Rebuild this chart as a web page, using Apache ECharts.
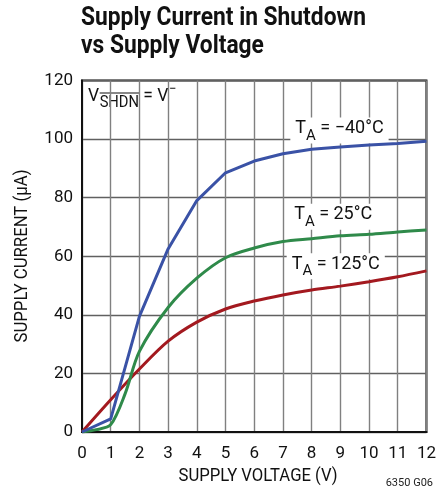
<!DOCTYPE html>
<html>
<head>
<meta charset="utf-8">
<script src="https://cdn.jsdelivr.net/npm/echarts@6/dist/echarts.min.js"></script>
<style>
  html, body { margin: 0; padding: 0; background: #fff; }
  #chart { width: 439px; height: 491px; }
</style>
</head>
<body>
<div id="chart"></div>
<script>
// Supply current in shutdown vs supply voltage, three ambient temperatures
const xTicks = [0, 1, 2, 3, 4, 5, 6, 7, 8, 9, 10, 11, 12];
const yTicks = [0, 20, 40, 60, 80, 100, 120];

const voltsNeg40 = [0, 1, 2, 3, 4, 5, 6, 7, 8, 9, 10, 11, 12];
const currentNeg40 = [0, 4.5, 39.5, 62.5, 79, 88.5, 92.5, 95, 96.5, 97.3, 98, 98.5, 99.3];

const volts25 = [0, 0.5, 1, 1.5, 2, 3, 4, 5, 6, 7, 8, 9, 10, 11, 12];
const current25 = [0, 0.8, 2.5, 13, 27.5, 42.5, 52.5, 59.5, 62.8, 65, 66, 67, 67.5, 68.3, 69];

const volts125 = [0, 1, 2, 3, 4, 5, 6, 7, 8, 9, 10, 11, 12];
const current125 = [0, 11, 21.5, 31, 37.5, 42, 44.7, 46.8, 48.5, 49.8, 51.3, 53, 55];

const titleLines = ['Supply Current in Shutdown', 'vs Supply Voltage'];
const xName = 'SUPPLY VOLTAGE (V)';
const yName = 'SUPPLY CURRENT (\u03bcA)';

// Curve labels: text and the data point each one is centred on
const labelNeg40 = { temp: ' = \u221240\u00b0C', at: [8.97, 102.9] };
const label25 = { temp: ' = 25\u00b0C', at: [8.75, 73.5] };
const label125 = { temp: ' = 125\u00b0C', at: [8.84, 56.6] };

const FONT = 'Roboto, "Liberation Sans", sans-serif';

// Condensed look: measure a string and squeeze it to the wanted width
const ctx = document.createElement('canvas').getContext('2d');
function textWidth(str, font) {
  ctx.font = font;
  return ctx.measureText(str).width;
}

function pairs(xs, ys) {
  return xs.map((x, i) => [x, ys[i]]);
}

function tempLabel(lbl) {
  return {
    coord: lbl.at,
    symbol: 'rect',
    symbolSize: 0,
    label: {
      show: true,
      position: 'inside',
      formatter: '{t|T}{s|A}{t|' + lbl.temp + '}',
      backgroundColor: '#fff',
      padding: [2, 5, 0, 5],
      rich: {
        t: { fontFamily: FONT, fontSize: 18, color: '#111', lineHeight: 24, verticalAlign: 'top' },
        s: { fontFamily: FONT, fontSize: 15, color: '#111', lineHeight: 24, verticalAlign: 'bottom', padding: [6, 0, 0, 0] }
      }
    }
  };
}

function lineSeries(name, data, color, smooth, lbl) {
  return {
    name: name,
    type: 'line',
    data: data,
    smooth: smooth,
    showSymbol: false,
    symbol: 'none',
    lineStyle: { color: color, width: 3 },
    z: 3,
    // label boxes sit over the grid but under the curves
    markPoint: { silent: true, z: 2, data: [tempLabel(lbl)] }
  };
}

const titleFont = 'bold 26px ' + FONT;
const titleScale = 285 / textWidth(titleLines[0], titleFont);
const nameFont = '19px ' + FONT;
const xNameScale = 159 / textWidth(xName, nameFont);
const yNameScale = 173 / textWidth(yName, nameFont);

const fs = '19px ' + FONT;
const fsSub = '16px ' + FONT;
const fsSup = '14px ' + FONT;
const annScale = 0.92;
const wV = textWidth('V', fs) * annScale;
const wSub = textWidth('SHDN', fsSub) * annScale;
const wEq = textWidth(' = V', fs) * annScale;
const wMinus = textWidth('\u2212', fsSup) * annScale;
const annX = 4;

const chart = echarts.init(document.getElementById('chart'), null, { renderer: 'canvas' });

chart.setOption({
  animation: false,
  backgroundColor: '#fff',
  grid: {
    left: 82,
    right: 5.5,
    top: 80.5,
    bottom: 59,
    show: true,
    borderColor: '#111',
    borderWidth: 2,
    backgroundColor: 'transparent'
  },
  xAxis: {
    type: 'value',
    min: xTicks[0],
    max: xTicks[xTicks.length - 1],
    interval: 1,
    axisLine: { show: true, lineStyle: { color: '#111', width: 2 } },
    axisTick: { show: false },
    axisLabel: { fontFamily: FONT, fontSize: 17, color: '#111', margin: 13 },
    splitLine: { show: true, lineStyle: { color: '#808080', width: 1.4 } }
  },
  yAxis: {
    type: 'value',
    min: yTicks[0],
    max: yTicks[yTicks.length - 1],
    interval: 20,
    axisLine: { show: true, lineStyle: { color: '#111', width: 2 } },
    axisTick: { show: false },
    axisLabel: { fontFamily: FONT, fontSize: 17, color: '#111', margin: 9 },
    splitLine: { show: true, lineStyle: { color: '#606060', width: 1.4 } }
  },
  series: [
    lineSeries('TA = 125°C', pairs(volts125, current125), '#a3191f', 0.3, label125),
    lineSeries('TA = 25°C', pairs(volts25, current25), '#2f8a4a', 0.3, label25),
    lineSeries('TA = -40°C', pairs(voltsNeg40, currentNeg40), '#3a52a6', false, labelNeg40)
  ],
  graphic: [
    // title, two lines
    { type: 'text', x: 81, y: 31, scaleX: titleScale, style: { text: titleLines[0], font: titleFont, fill: '#111', verticalAlign: 'bottom' } },
    { type: 'text', x: 81, y: 59, scaleX: titleScale, style: { text: titleLines[1], font: titleFont, fill: '#111', verticalAlign: 'bottom' } },
    // axis names
    { type: 'text', x: 258, y: 476, scaleX: xNameScale, style: { text: xName, font: nameFont, fill: '#111', align: 'center', verticalAlign: 'middle' } },
    { type: 'text', x: 22, y: 256, rotation: Math.PI / 2, scaleX: yNameScale, style: { text: yName, font: nameFont, fill: '#111', align: 'center', verticalAlign: 'middle' } },
    // shutdown pin condition
    {
      type: 'group',
      x: 84,
      y: 83,
      z: 10,
      children: [
        { type: 'rect', shape: { x: 0, y: 0, width: annX + wV + wSub + wEq + wMinus + 6, height: 31 }, style: { fill: '#fff' } },
        { type: 'text', x: annX, y: 4, scaleX: annScale, style: { text: 'V', font: fs, fill: '#111' } },
        { type: 'text', x: annX + wV + 0.5, y: 12, scaleX: annScale, style: { text: 'SHDN', font: fsSub, fill: '#111' } },
        { type: 'line', shape: { x1: annX + wV + 0.5, y1: 10, x2: annX + wV + 0.5 + wSub, y2: 10 }, style: { stroke: '#111', lineWidth: 1.2 } },
        { type: 'text', x: annX + wV + wSub + 0.5, y: 4, scaleX: annScale, style: { text: ' = V', font: fs, fill: '#111' } },
        { type: 'text', x: annX + wV + wSub + wEq + 1, y: -1, scaleX: annScale, style: { text: '\u2212', font: fsSup, fill: '#111' } }
      ]
    },
    { type: 'text', right: 6, bottom: 2, style: { text: '6350 G06', font: '11px ' + FONT, fill: '#222' } }
  ]
});
</script>
</body>
</html>
